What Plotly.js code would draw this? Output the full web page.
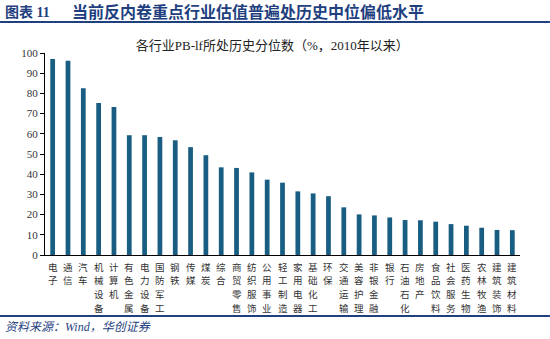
<!DOCTYPE html>
<html>
<head>
<meta charset="utf-8">
<script src="https://cdn.plot.ly/plotly-3.0.1.min.js"></script>
<style>
html,body{margin:0;padding:0;background:#fff;}
#chart{width:550px;height:339px;}
</style>
</head>
<body>
<div id="chart"></div>
<script>
const categories = ["电子","通信","汽车","机械设备","计算机","有色金属","电力设备","国防军工","钢铁","传媒","煤炭","综合","商贸零售","纺织服饰","公用事业","轻工制造","家用电器","基础化工","环保","交通运输","美容护理","非银金融","银行","石油石化","房地产","食品饮料","社会服务","医药生物","农林牧渔","建筑装饰","建筑材料"];
const percentiles = [97.0,96.2,82.5,75.2,73.3,59.3,59.3,58.4,56.8,53.4,49.4,43.4,43.1,40.9,37.3,35.8,31.5,30.5,29.1,23.6,20.1,19.6,18.6,17.3,17.2,16.5,15.3,14.5,13.5,12.4,12.3];
const yTicks = [0,10,20,30,40,50,60,70,80,90,100];
const chartTitle = "各行业PB-lf所处历史分位数（%，2010年以来）";
const headerNo = "图表 11";
const headerText = "当前反内卷重点行业估值普遍处历史中位偏低水平";
const sourceText = "资料来源：Wind，华创证券";

const serif = "Liberation Serif, 'Noto Sans CJK SC', serif";
const navy = "#1f3f7f";

const trace = {
  type: "bar",
  x: categories,
  y: percentiles,
  marker: {color: "#195e82", line: {width: 0}},
  hoverinfo: "x+y"
};

const annotations = [
  {text: "<b>" + headerNo + "</b>", xref: "paper", yref: "paper", x: -0.089, y: 1.203,
   xanchor: "left", yanchor: "middle", showarrow: false,
   font: {family: serif, size: 14, color: navy}},
  {text: "<b>" + headerText + "</b>", xref: "paper", yref: "paper", x: 0.053, y: 1.203,
   xanchor: "left", yanchor: "middle", showarrow: false,
   font: {family: serif, size: 16, color: navy}},
  {text: "<i>" + sourceText + "</i>", xref: "paper", yref: "paper", x: -0.089, y: -0.356,
   xanchor: "left", yanchor: "middle", showarrow: false,
   font: {family: serif, size: 12, color: navy}}
];

// vertical category labels: one character per row under each bar
categories.forEach(function (cat) {
  cat.split("").forEach(function (ch, i) {
    annotations.push({
      text: ch, xref: "x", yref: "paper", x: cat, y: 0,
      xanchor: "center", yanchor: "middle", yshift: -11.5 - 13.9 * i,
      showarrow: false,
      font: {family: "'Noto Sans CJK SC', serif", size: 9.5, color: "#333"}
    });
  });
});

const layout = {
  width: 550, height: 339,
  margin: {l: 45, r: 30, t: 53, b: 84},
  paper_bgcolor: "#fff", plot_bgcolor: "#fff",
  bargap: 0.69,
  showlegend: false,
  title: {text: chartTitle, x: 0.495, xanchor: "center", y: 0.865, yanchor: "middle",
          font: {family: serif, size: 13, color: "#222"}},
  xaxis: {
    type: "category", showticklabels: false,
    ticks: "", showline: true, linecolor: "#000", linewidth: 1,
    showgrid: false, zeroline: false,
    range: [-0.5, 30.5]
  },
  yaxis: {
    range: [0, 100], tickmode: "array", tickvals: yTicks,
    ticks: "outside", ticklen: 4, tickcolor: "#000", tickwidth: 1,
    showline: true, linecolor: "#000", linewidth: 1,
    showgrid: false, zeroline: false,
    tickfont: {family: serif, size: 11, color: "#333"}
  },
  annotations: annotations,
  shapes: [
    {type: "line", xref: "paper", yref: "paper", x0: -0.0947, x1: 1.063, y0: 1.153, y1: 1.153,
     line: {color: navy, width: 2}},
    {type: "line", xref: "paper", yref: "paper", x0: -0.0947, x1: 1.063, y0: -0.302, y1: -0.302,
     line: {color: navy, width: 2}}
  ]
};

Plotly.newPlot("chart", [trace], layout, {staticPlot: true, displayModeBar: false});
</script>
</body>
</html>
